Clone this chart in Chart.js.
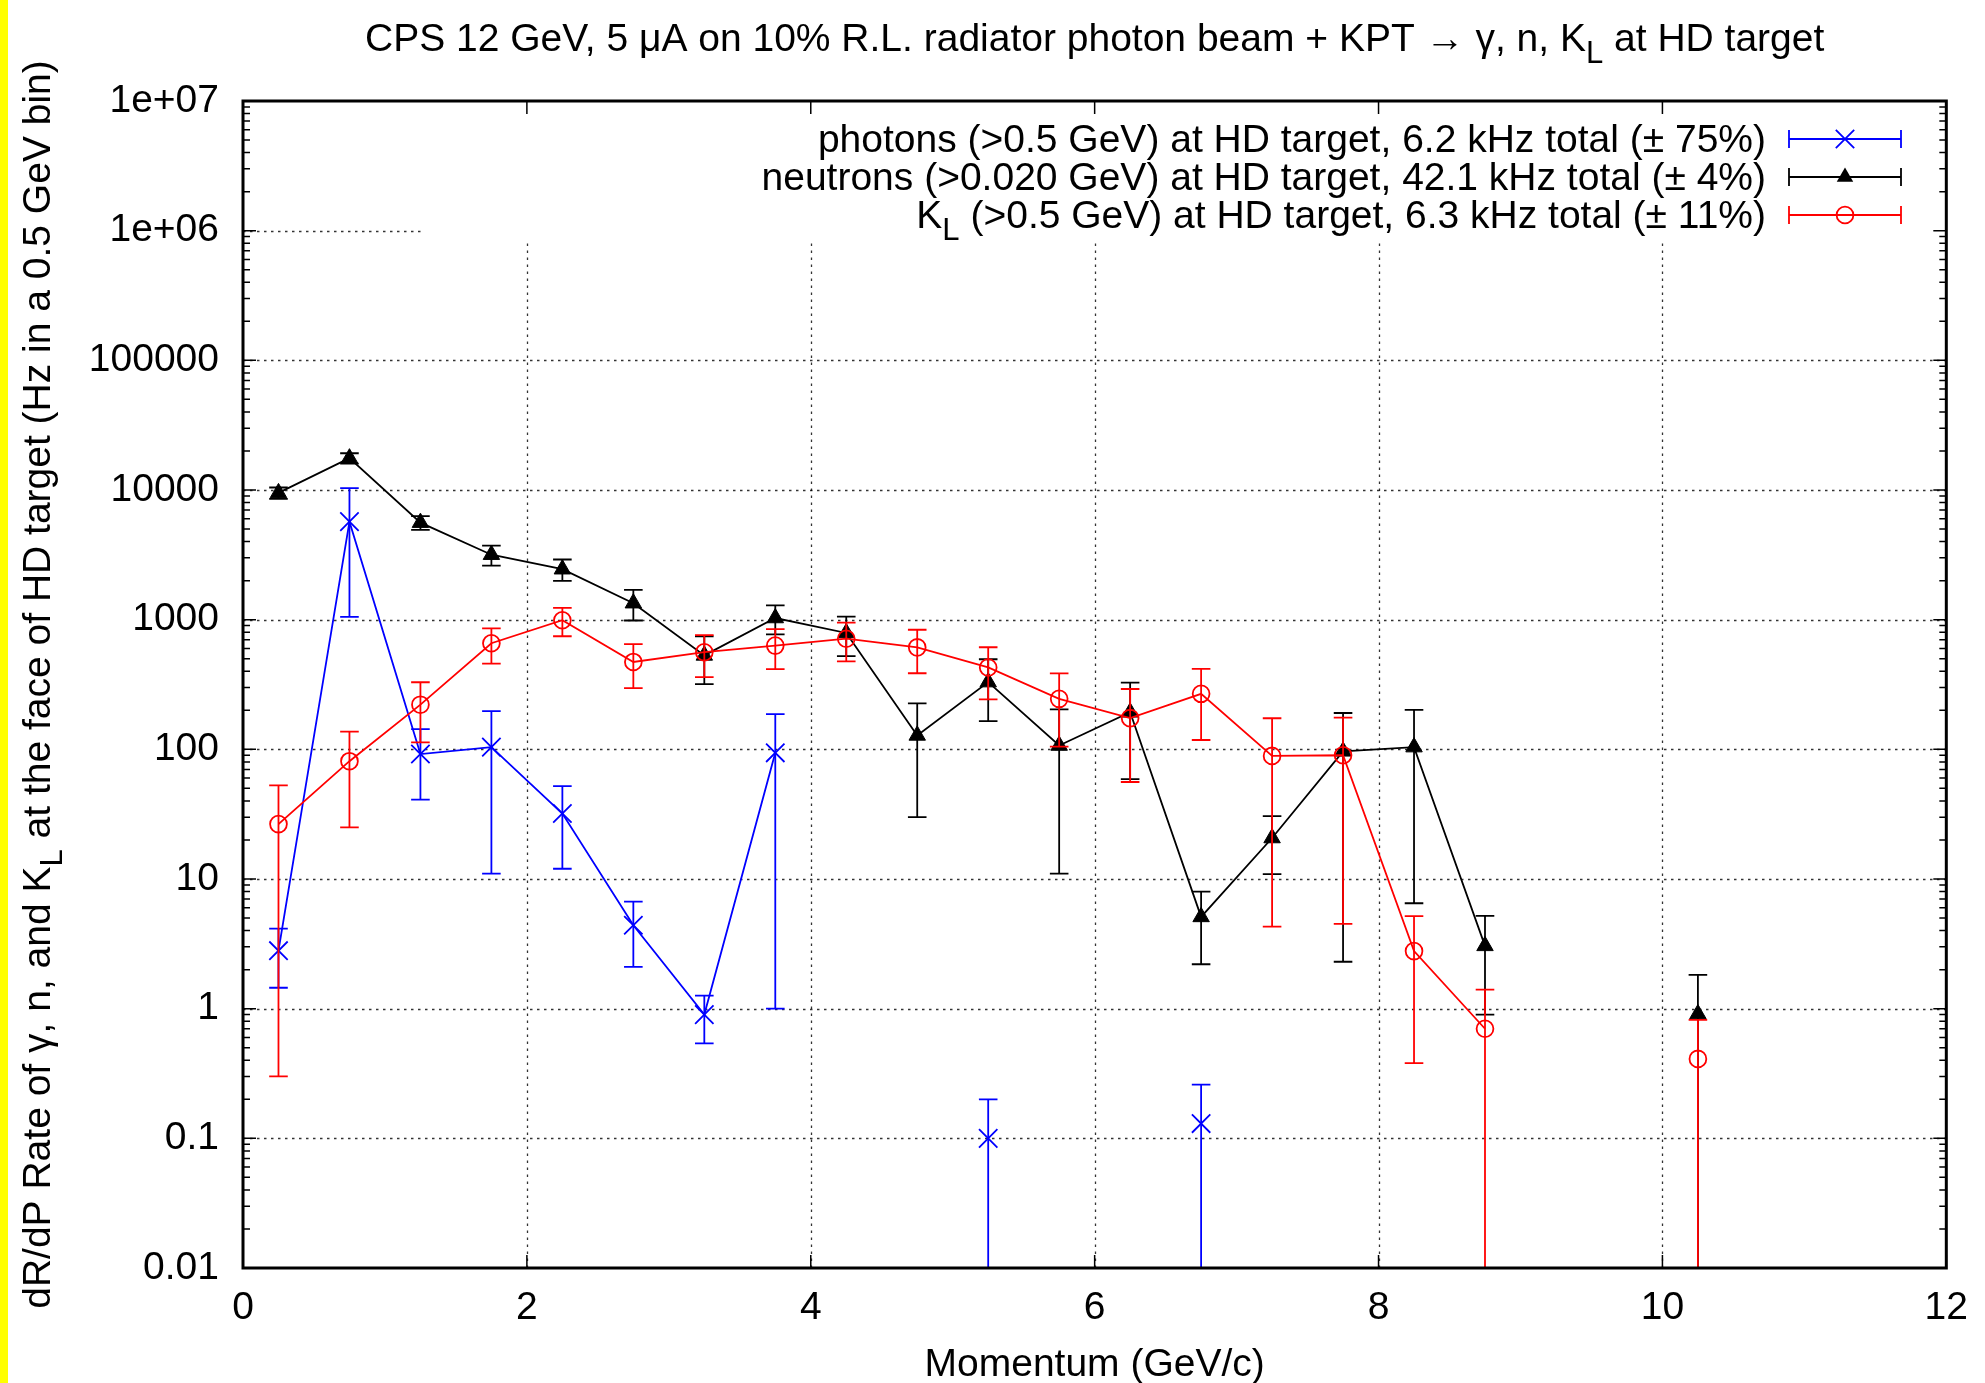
<!DOCTYPE html>
<html>
<head>
<meta charset="utf-8">
<script src="https://cdn.jsdelivr.net/npm/chart.js@4.4.1/dist/chart.umd.min.js"></script>
<style>
  html, body { margin: 0; padding: 0; background: #fff; }
  #wrap { position: relative; width: 1985px; height: 1383px; }
</style>
</head>
<body>
<div id="wrap"><canvas id="rates"></canvas></div>
<script>
// momentum bin centres (GeV/c), 0.5 GeV bins
const momentum = [0.25, 0.75, 1.25, 1.75, 2.25, 2.75, 3.25, 3.75, 4.25, 4.75, 5.25,
                  5.75, 6.25, 6.75, 7.25, 7.75, 8.25, 8.75, 9.25, 9.75, 10.25];

// photons (>0.5 GeV) - null means empty bin
const photonRate = [2.8, 5700, 92, 104, 32, 4.4, 0.9, 94, null, null, 0.1,
                    null, null, 0.13, null, null, null, null, null, null, null];
const photonErr  = [1.35, 4650, 51, 93, 20, 2.3, 0.36, 93, null, null, 0.1,
                    null, null, 0.13, null, null, null, null, null, null, null];

// neutrons (>0.020 GeV)
const neutronRate = [9500, 17600, 5600, 3170, 2450, 1340, 530, 1030, 790, 128, 330,
                     107, 193, 5.1, 20.7, 96.5, 104, 3.05, null, null, 0.91];
const neutronErr  = [950, 1600, 680, 560, 460, 355, 212, 260, 267, 98, 165,
                     96, 134, 2.9, 9.8, 94.2, 97.5, 2.15, null, null, 0.91];

// K_L (>0.5 GeV)
const kaonRate = [26.5, 81, 221, 658, 990, 472, 561, 631, 713, 611, 428,
                  245, 174, 268, 89, 90, 2.78, 0.70, null, null, 0.41];
const kaonErr  = [26.2, 56, 108, 200, 245, 175, 200, 215, 237, 225, 185,
                  140, 118, 150, 84.7, 85.5, 2.4, 0.70, null, null, 0.41];

const xTicks = [0, 2, 4, 6, 8, 10, 12];
const yTicks = [0.01, 0.1, 1, 10, 100, 1000, 10000, 100000, 1e6, 1e7];
const yTickLabels = ['0.01', '0.1', '1', '10', '100', '1000', '10000', '100000', '1e+06', '1e+07'];

// text pieces: [text, isSubscript]
const titleParts = [['CPS 12 GeV, 5 \u03bcA on 10% R.L. radiator photon beam + KPT \u2192 \u03b3, n, K', false], ['L', true], [' at HD target', false]];
const xTitleParts = [['Momentum (GeV/c)', false]];
const yTitleParts = [['dR/dP Rate of \u03b3, n, and K', false], ['L', true], [' at the face of HD target (Hz in a 0.5 GeV bin)', false]];
const legendParts = [
    [['photons (>0.5 GeV) at HD target, 6.2 kHz total (\u00b1 75%)', false]],
    [['neutrons (>0.020 GeV) at HD target, 42.1 kHz total (\u00b1 4%)', false]],
    [['K', false], ['L', true], [' (>0.5 GeV) at HD target, 6.3 kHz total (\u00b1 11%)', false]]
];

const FONT = "'Liberation Sans', Arial, sans-serif";
const FONT_SIZE = 39;
const BLUE = '#0000ff', BLACK = '#000000', RED = '#ff0000';
const LINE_W = 1.8;
const TRI_R = 9.5, CIRC_R = 8.4, CROSS_R = 13;

// key box hides the grid in the top right corner
const KEY = { left: 424, bottom: 241, textRight: 1766, sampleL: 1789, sampleR: 1901, rows: [152, 190, 228] };

function drawRich(ctx, parts, x, y, align, size) {
    const main = size + 'px ' + FONT;
    const sub = Math.round(size * 0.8) + 'px ' + FONT;
    let total = 0;
    parts.forEach(p => { ctx.font = p[1] ? sub : main; total += ctx.measureText(p[0]).width; });
    let cx = align === 'center' ? x - total / 2 : (align === 'right' ? x - total : x);
    ctx.textAlign = 'left';
    ctx.textBaseline = 'alphabetic';
    parts.forEach(p => {
        ctx.font = p[1] ? sub : main;
        ctx.fillText(p[0], cx, y + (p[1] ? size * 0.3 : 0));
        cx += ctx.measureText(p[0]).width;
    });
}

function drawMarker(ctx, style, x, y, color) {
    ctx.save();
    ctx.strokeStyle = color;
    ctx.fillStyle = color;
    ctx.lineWidth = LINE_W;
    ctx.beginPath();
    if (style === 'crossRot') {
        const d = CROSS_R * 0.707;
        ctx.moveTo(x - d, y - d); ctx.lineTo(x + d, y + d);
        ctx.moveTo(x + d, y - d); ctx.lineTo(x - d, y + d);
        ctx.stroke();
    } else if (style === 'triangle') {
        ctx.moveTo(x, y - TRI_R);
        ctx.lineTo(x + TRI_R * 0.866, y + TRI_R / 2);
        ctx.lineTo(x - TRI_R * 0.866, y + TRI_R / 2);
        ctx.closePath();
        ctx.fill();
    } else {
        ctx.arc(x, y, CIRC_R, 0, Math.PI * 2);
        ctx.stroke();
    }
    ctx.restore();
}

function toPoints(values) {
    return momentum.map((m, i) => ({ x: m, y: values[i] }));
}

const gnuplotFrame = {
    id: 'gnuplotFrame',
    beforeDraw(chart) {
        const ctx = chart.ctx;
        ctx.save();
        ctx.fillStyle = '#ffffff';
        ctx.fillRect(0, 0, chart.width, chart.height);
        ctx.fillStyle = '#ffff00';
        ctx.fillRect(0, 0, 8, chart.height);
        ctx.restore();
    },
    beforeDatasetsDraw(chart) {
        // dotted grid, skipped under the key
        const ctx = chart.ctx, a = chart.chartArea;
        const xs = chart.scales.x, ys = chart.scales.y;
        ctx.save();
        ctx.beginPath();
        ctx.rect(a.left, a.top, a.right - a.left, a.bottom - a.top);
        ctx.rect(KEY.left, a.top, a.right - KEY.left, KEY.bottom - a.top);
        ctx.clip('evenodd');
        ctx.strokeStyle = 'rgba(0,0,0,0.8)';
        ctx.lineWidth = 1.3;
        ctx.setLineDash([2.5, 4.5]);
        xTicks.slice(1, -1).forEach(v => {
            const px = Math.round(xs.getPixelForValue(v)) + 0.5;
            ctx.beginPath(); ctx.moveTo(px, a.bottom); ctx.lineTo(px, a.top); ctx.stroke();
        });
        yTicks.slice(1, -1).forEach(v => {
            const py = Math.round(ys.getPixelForValue(v)) + 0.5;
            ctx.beginPath(); ctx.moveTo(a.left, py); ctx.lineTo(a.right, py); ctx.stroke();
        });
        ctx.restore();
    },
    beforeDatasetDraw(chart, args) {
        // symmetric error bars, drawn under the markers of the same series
        const ds = chart.data.datasets[args.index];
        const ctx = chart.ctx, a = chart.chartArea;
        const xs = chart.scales.x, ys = chart.scales.y;
        const cap = 9.3;
        ctx.save();
        ctx.beginPath();
        ctx.rect(a.left, a.top, a.right - a.left, a.bottom - a.top);
        ctx.clip();
        ctx.strokeStyle = ds.borderColor;
        ctx.lineWidth = LINE_W;
        ds.data.forEach((pt, i) => {
            if (pt.y == null) return;
            const e = ds.errors[i];
            const px = xs.getPixelForValue(pt.x);
            const hi = ys.getPixelForValue(pt.y + e);
            const lo = pt.y - e > 0 ? ys.getPixelForValue(pt.y - e) : a.bottom + 10;
            ctx.beginPath();
            ctx.moveTo(px, hi); ctx.lineTo(px, lo);
            ctx.moveTo(px - cap, hi); ctx.lineTo(px + cap, hi);
            if (pt.y - e > 0) { ctx.moveTo(px - cap, lo); ctx.lineTo(px + cap, lo); }
            ctx.stroke();
        });
        ctx.restore();
    },
    afterDraw(chart) {
        const ctx = chart.ctx, a = chart.chartArea;
        const xs = chart.scales.x, ys = chart.scales.y;
        ctx.save();
        // inward ticks on all four sides
        ctx.strokeStyle = '#000';
        ctx.lineWidth = 1.5;
        ctx.beginPath();
        xTicks.forEach(v => {
            const px = xs.getPixelForValue(v);
            ctx.moveTo(px, a.bottom); ctx.lineTo(px, a.bottom - 13);
            ctx.moveTo(px, a.top); ctx.lineTo(px, a.top + 13);
        });
        yTicks.forEach((v, k) => {
            const py = ys.getPixelForValue(v);
            ctx.moveTo(a.left, py); ctx.lineTo(a.left + 13, py);
            ctx.moveTo(a.right, py); ctx.lineTo(a.right - 13, py);
            if (k < yTicks.length - 1) {
                for (let m = 2; m <= 9; m++) {
                    const pm = ys.getPixelForValue(v * m);
                    ctx.moveTo(a.left, pm); ctx.lineTo(a.left + 7, pm);
                    ctx.moveTo(a.right, pm); ctx.lineTo(a.right - 7, pm);
                }
            }
        });
        ctx.stroke();
        // frame
        ctx.lineWidth = 3;
        ctx.strokeRect(a.left, a.top, a.right - a.left, a.bottom - a.top);

        ctx.fillStyle = '#000';
        drawRich(ctx, titleParts, (a.left + a.right) / 2, 51, 'center', FONT_SIZE);
        drawRich(ctx, xTitleParts, (a.left + a.right) / 2, 1376, 'center', FONT_SIZE);
        ctx.save();
        ctx.translate(50, (a.top + a.bottom) / 2);
        ctx.rotate(-Math.PI / 2);
        drawRich(ctx, yTitleParts, 0, 0, 'center', FONT_SIZE);
        ctx.restore();

        // key
        const samples = [[BLUE, 'crossRot'], [BLACK, 'triangle'], [RED, 'circle']];
        legendParts.forEach((parts, i) => {
            const y = KEY.rows[i];
            ctx.fillStyle = '#000';
            drawRich(ctx, parts, KEY.textRight, y, 'right', FONT_SIZE);
            const my = y - 13;
            ctx.strokeStyle = samples[i][0];
            ctx.lineWidth = LINE_W;
            ctx.beginPath();
            ctx.moveTo(KEY.sampleL, my); ctx.lineTo(KEY.sampleR, my);
            ctx.moveTo(KEY.sampleL, my - 9); ctx.lineTo(KEY.sampleL, my + 9);
            ctx.moveTo(KEY.sampleR, my - 9); ctx.lineTo(KEY.sampleR, my + 9);
            ctx.stroke();
            drawMarker(ctx, samples[i][1], (KEY.sampleL + KEY.sampleR) / 2, my, samples[i][0]);
        });
        ctx.restore();
    }
};

Chart.defaults.font.family = FONT;
Chart.defaults.font.size = FONT_SIZE;
Chart.defaults.color = '#000';

new Chart(document.getElementById('rates'), {
    type: 'line',
    data: {
        datasets: [
            {
                label: 'photons',
                data: toPoints(photonRate),
                errors: photonErr,
                borderColor: BLUE,
                backgroundColor: BLUE,
                borderWidth: LINE_W,
                pointStyle: 'crossRot',
                pointRadius: CROSS_R,
                pointBorderWidth: LINE_W,
                order: 3
            },
            {
                label: 'neutrons',
                data: toPoints(neutronRate),
                errors: neutronErr,
                borderColor: BLACK,
                backgroundColor: BLACK,
                borderWidth: LINE_W,
                pointStyle: 'triangle',
                pointRadius: TRI_R,
                pointBorderWidth: 1,
                order: 2
            },
            {
                label: 'K_L',
                data: toPoints(kaonRate),
                errors: kaonErr,
                borderColor: RED,
                backgroundColor: 'rgba(0,0,0,0)',
                borderWidth: LINE_W,
                pointStyle: 'circle',
                pointRadius: CIRC_R,
                pointBorderWidth: LINE_W,
                order: 1
            }
        ]
    },
    options: {
        responsive: true,
        maintainAspectRatio: false,
        animation: false,
        events: [],
        spanGaps: false,
        elements: { line: { tension: 0 } },
        layout: { padding: { left: 0, right: 38, top: 101, bottom: 0 } },
        plugins: {
            legend: { display: false },
            tooltip: { enabled: false },
            title: { display: false }
        },
        scales: {
            x: {
                type: 'linear',
                min: 0,
                max: 12,
                grid: { display: false, drawTicks: false },
                border: { display: false },
                afterBuildTicks: scale => { scale.ticks = xTicks.map(v => ({ value: v })); },
                afterFit: scale => { scale.height = 115; },
                ticks: { padding: 17, autoSkip: false, maxRotation: 0, callback: v => String(v) }
            },
            y: {
                type: 'logarithmic',
                min: 0.01,
                max: 1e7,
                grid: { display: false, drawTicks: false },
                border: { display: false },
                afterBuildTicks: scale => { scale.ticks = yTicks.map(v => ({ value: v })); },
                afterFit: scale => { scale.width = 243; },
                ticks: { padding: 24, autoSkip: false, callback: (v, i) => yTickLabels[i] }
            }
        }
    },
    plugins: [gnuplotFrame]
});
</script>
</body>
</html>
